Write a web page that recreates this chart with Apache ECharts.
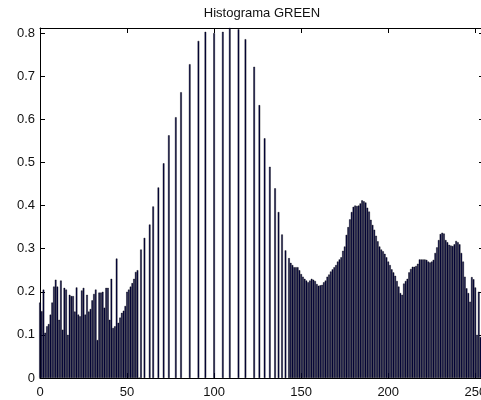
<!DOCTYPE html>
<html>
<head>
<meta charset="utf-8">
<script src="https://cdn.jsdelivr.net/npm/echarts@6/dist/echarts.min.js"></script>
<style>
html,body{margin:0;padding:0;background:#fff;overflow:hidden;width:481px;height:400px;}
#chart{width:492px;height:400px;}
</style>
</head>
<body>
<div id="chart"></div>
<script>
// Histogram bins 0..57 (contiguous part, left)
var leftBins = [
  0.175,0.155,0.205,0.105,0.120,0.125,0.147,0.175,0.212,0.228,
  0.212,0.135,0.226,0.112,0.209,0.205,0.100,0.193,0.190,0.190,
  0.154,0.210,0.147,0.143,0.203,0.209,0.147,0.193,0.154,0.160,
  0.180,0.195,0.205,0.088,0.198,0.198,0.200,0.163,0.209,0.209,
  0.135,0.230,0.116,0.120,0.277,0.128,0.140,0.151,0.156,0.167,
  0.200,0.205,0.212,0.220,0.230,0.246,0.250,0
];
// Sparse middle part: bin positions and their values (other bins are empty)
var midPos = [58,60,63,65,68,71,74,78,81,86,91,95,100,105,109,114,118,123,126,129,132,135,137,139,141,143];
var midVal = [0.298,0.325,0.356,0.398,0.442,0.498,0.563,0.605,0.663,0.728,0.782,0.803,0.800,0.803,0.812,0.809,0.786,0.722,0.633,0.556,0.490,0.440,0.385,0.333,0.296,0.278];
// Contiguous right part: bins 144..255
var rightBins = [
  0.267,0.262,0.257,0.257,0.257,0.250,0.241,0.235,0.230,0.226,
  0.222,0.226,0.230,0.228,0.225,0.218,0.214,0.215,0.216,0.222,
  0.226,0.235,0.240,0.247,0.252,0.257,0.262,0.270,0.275,0.280,
  0.295,0.305,0.332,0.350,0.368,0.385,0.397,0.400,0.399,0.400,
  0.405,0.412,0.410,0.407,0.395,0.386,0.367,0.355,0.344,0.330,
  0.317,0.305,0.298,0.294,0.288,0.280,0.270,0.262,0.252,0.245,
  0.237,0.225,0.212,0.197,0.193,0.219,0.225,0.230,0.245,0.253,
  0.258,0.258,0.260,0.265,0.275,0.275,0.275,0.275,0.274,0.270,
  0.268,0.270,0.274,0.290,0.303,0.320,0.334,0.337,0.335,0.320,
  0.315,0.309,0.307,0.306,0.310,0.318,0.315,0.310,0.290,0.270,
  0.235,0.208,0.197,0.177,0.234,0.229,0.210,0.100,0.200,0.095,
  0.200,0.100
];
var xTicks = [0,50,100,150,200,250];
var yTicks = [0,0.1,0.2,0.3,0.4,0.5,0.6,0.7,0.8];

var data = [];
for (var i = 0; i < leftBins.length; i++) data.push([i, leftBins[i]]);
for (var j = 0; j < midPos.length; j++) data.push([midPos[j], midVal[j]]);
for (var k = 0; k < rightBins.length; k++) data.push([144 + k, rightBins[k]]);

var FONT = '"Liberation Sans", Arial, Helvetica, sans-serif';
function xFmt(v){ return xTicks.indexOf(Math.round(v)) >= 0 && Math.abs(v - Math.round(v)) < 1e-6 ? String(Math.round(v)) : ''; }
function yFmt(v){
  var r = Math.round(v * 10);
  if (Math.abs(v * 10 - r) > 1e-6) return '';
  return r === 0 ? '0' : String(yTicks[r]);
}
var chart = echarts.init(document.getElementById('chart'), null, {renderer: 'canvas', width: 492, height: 400});
var lineStyle = {color: '#000', width: 1};
chart.setOption({
  animation: false,
  backgroundColor: '#fff',
  graphic: [{
    type: 'text', x: 262, y: 13,
    style: {text: 'Histograma GREEN', fill: '#111', font: '13px ' + FONT, textAlign: 'center', textVerticalAlign: 'middle'}
  }],
  grid: {left: 40, right: 8, top: 28, bottom: 22, containLabel: false},
  xAxis: [{
    type: 'value', min: 0, max: 255, interval: 50, position: 'bottom',
    axisLine: {show: true, lineStyle: lineStyle, onZero: false},
    axisTick: {show: true, inside: true, length: 5, lineStyle: lineStyle},
    axisLabel: {formatter: xFmt, color: '#111', fontSize: 13, fontFamily: FONT, margin: 8},
    splitLine: {show: false}
  }, {
    type: 'value', min: 0, max: 255, interval: 50, position: 'top',
    axisLine: {show: true, lineStyle: lineStyle, onZero: false},
    axisTick: {show: true, inside: true, length: 5, lineStyle: lineStyle},
    axisLabel: {show: false},
    splitLine: {show: false}
  }],
  yAxis: [{
    type: 'value', min: 0, max: 0.812, interval: 0.1, position: 'left',
    axisLine: {show: true, lineStyle: lineStyle, onZero: false},
    axisTick: {show: true, inside: true, length: 5, lineStyle: lineStyle},
    axisLabel: {formatter: yFmt, color: '#111', fontSize: 13, fontFamily: FONT, margin: 5},
    splitLine: {show: false}
  }, {
    type: 'value', min: 0, max: 0.812, interval: 0.1, position: 'right',
    axisLine: {show: true, lineStyle: lineStyle, onZero: false},
    axisTick: {show: true, inside: true, length: 5, lineStyle: lineStyle},
    axisLabel: {show: false},
    splitLine: {show: false}
  }],
  series: [{
    type: 'bar', xAxisIndex: 0, yAxisIndex: 0,
    data: data,
    barWidth: 1.6,
    itemStyle: {color: '#05054a', borderColor: '#000', borderWidth: 0.4},
    clip: true
  }]
});
</script>
</body>
</html>
